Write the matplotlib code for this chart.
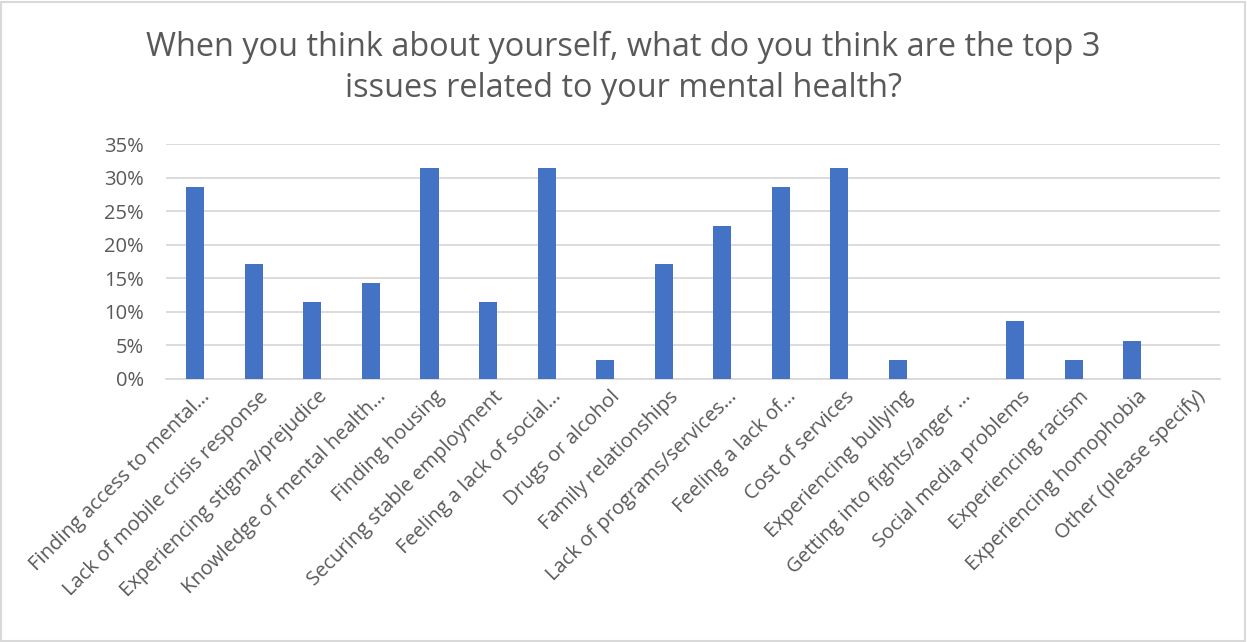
import numpy as np
import matplotlib.pyplot as plt
from matplotlib.ticker import PercentFormatter
from matplotlib.patches import Rectangle

plt.rcParams['font.family'] = ['Open Sans', 'DejaVu Sans']

# Survey categories and share of respondents
categories = [
    'Finding access to mental…',
    'Lack of mobile crisis response',
    'Experiencing stigma/prejudice',
    'Knowledge of mental health…',
    'Finding housing',
    'Securing stable employment',
    'Feeling a lack of social…',
    'Drugs or alcohol',
    'Family relationships',
    'Lack of programs/services…',
    'Feeling a lack of…',
    'Cost of services',
    'Experiencing bullying',
    'Getting into fights/anger …',
    'Social media problems',
    'Experiencing racism',
    'Experiencing homophobia',
    'Other (please specify)',
]
shares = [0.2857, 0.1714, 0.1143, 0.1429, 0.3143, 0.1143, 0.3143, 0.0286, 0.1714,
          0.2286, 0.2857, 0.3143, 0.0286, 0.0, 0.0857, 0.0286, 0.0571, 0.0]
yticks = [0, 0.05, 0.10, 0.15, 0.20, 0.25, 0.30, 0.35]

title = ('When you think about yourself, what do you think are the top 3\n'
         'issues related to your mental health?')

text_col = '#595959'
bar_col = '#4472C4'
grid_col = '#D9D9D9'

fig = plt.figure(figsize=(12.47, 6.42), dpi=100)
W, H = 1247, 642
ax = fig.add_axes([166 / W, 1 - 379 / H, (1220 - 166) / W, (379 - 144) / H])

x = np.arange(len(categories))
ax.bar(x, shares, width=0.31, color=bar_col, zorder=3)

ax.set_xlim(-0.5, len(categories) - 0.5)
ax.set_ylim(0, 0.35)
ax.set_yticks(yticks)
ax.yaxis.set_major_formatter(PercentFormatter(1.0, decimals=0))
ax.grid(axis='y', color=grid_col, linewidth=1.3, zorder=0)
for s in ['top', 'right', 'left']:
    ax.spines[s].set_visible(False)
ax.spines['bottom'].set_color(grid_col)
ax.spines['bottom'].set_linewidth(1.3)
ax.tick_params(axis='y', length=0, pad=16, labelsize=14.5, labelcolor=text_col)
ax.tick_params(axis='x', length=0)
ax.set_xticks(x)
ax.set_xticklabels([])

# rotated category labels ending just below each bar
for xi, lab in zip(x, categories):
    ax.annotate(lab, xy=(xi, 0), xycoords=('data', 'axes fraction'),
                xytext=(12, -15), textcoords='offset pixels',
                rotation=45, rotation_mode='anchor', ha='right', va='center',
                fontsize=14.5, color=text_col)

fig.text(0.5, 1 - 68 / H, title, ha='center', va='center', fontsize=23.4,
         color=text_col, linespacing=1.3)

# thin frame around the chart area
fig.patches.append(Rectangle((1 / W, 1 / H), (W - 3) / W, (H - 3) / H,
                             transform=fig.transFigure, fill=False,
                             edgecolor='#D9D9D9', linewidth=1.5))

fig.savefig('out.png', dpi=100)
